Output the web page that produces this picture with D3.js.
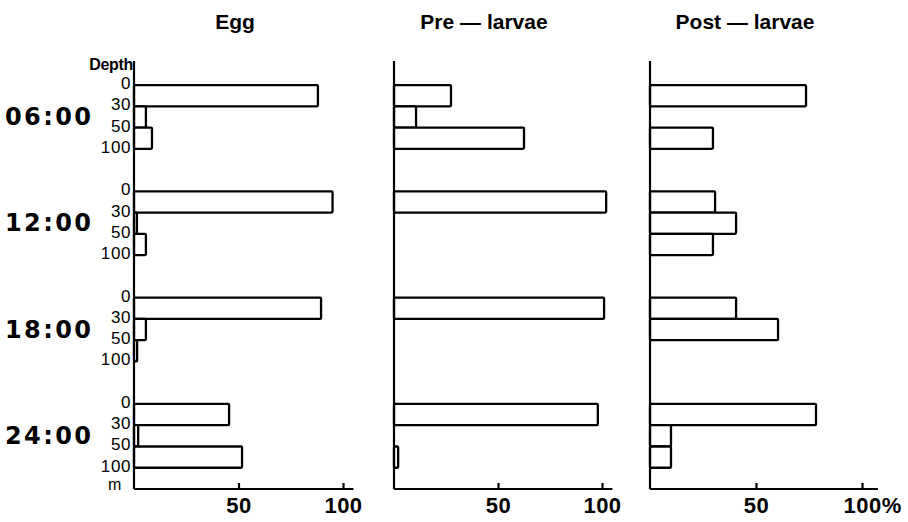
<!DOCTYPE html>
<html lang="en">
  <head>
    <meta charset="utf-8">
    <title>Vertical distribution by stage</title>
    <script src="https://d3js.org/d3.v7.min.js"></script>
    <style>
      html, body { margin: 0; padding: 0; background: #fff; }
      svg { display: block; font-family: "Liberation Sans", Arial, sans-serif; }
      .bar { fill: #fff; stroke: #000; stroke-width: 2.3; }
      .axis path, .axis line { stroke: #000; stroke-width: 2.2; }
      .axis text { font-size: 22px; font-weight: bold; fill: #000; letter-spacing: 0.5px; }
    </style>
  </head>
  <body>
    <svg id="chart" width="908" height="522"></svg>
    <script>
      // data (% per depth layer)
      const stages = ['Egg', 'Pre \u2014 larvae', 'Post \u2014 larvae'];
      const times = ['06:00', '12:00', '18:00', '24:00'];
      const depthTicks = ['0', '30', '50', '100'];
      const layers = ['0-30', '30-50', '50-100'];
      const egg = [[88, 5.7, 8.6], [95, 1.4, 5.7], [89.5, 5.7, 1.5], [45.5, 2, 51.7]];
      const preLarvae = [[27.4, 10.6, 62.5], [102, 0, 0], [101, 0, 0], [98, 0, 2]];
      const postLarvae = [[73.6, 0, 29.7], [30.7, 40.6, 29.7], [40.6, 60.4, 0], [78.3, 9.9, 9.9]];
      const pctTicks = [50, 100];

      const series = [egg, preLarvae, postLarvae];

      const svg = d3.select('#chart');
      const panelX = [134, 394, 650];
      const panelW = [209, 208, 212];
      const axisTop = 61, axisBottom = 489;
      const slotsPerGroup = 5;

      // one unit = one depth layer bar
      const y = d3.scaleLinear().domain([-1.13, 19]).range([axisTop, axisBottom]);

      stages.forEach(function(stage, p) {
        const x = d3.scaleLinear().domain([0, 100]).range([panelX[p], panelX[p] + panelW[p]]);
        const g = svg.append('g');

        g.append('text')
          .attr('x', [235, 484, 745][p])
          .attr('y', 29)
          .attr('text-anchor', 'middle')
          .style('font-size', '21px')
          .style('font-weight', 'bold')
          .text(stage);

        const rows = [];
        series[p].forEach(function(vals, t) {
          vals.forEach(function(v, l) {
            rows.push({ t: t, l: l, v: v, layer: layers[l] });
          });
        });

        g.selectAll('rect.bar')
          .data(rows.filter(d => d.v > 0))
          .enter().append('rect')
            .attr('class', 'bar')
            .attr('x', x(0))
            .attr('y', d => y(d.t * slotsPerGroup + d.l))
            .attr('width', d => x(d.v) - x(0))
            .attr('height', d => y(1) - y(0))
            .attr('rx', 1);

        // vertical axis line
        g.append('line')
          .attr('x1', x(0)).attr('x2', x(0))
          .attr('y1', axisTop).attr('y2', axisBottom)
          .attr('stroke', '#000').attr('stroke-width', 2.2);

        const xAxis = d3.axisBottom(x)
          .tickValues(pctTicks)
          .tickSizeInner(-6)
          .tickSizeOuter(0)
          .tickPadding(8)
          .tickFormat(d => d);

        const ax = g.append('g')
          .attr('class', 'axis')
          .attr('transform', 'translate(0,' + axisBottom + ')')
          .call(xAxis);
        ax.select('.domain').attr('d', 'M' + x(0) + ',0H' + x(p === 2 ? 107.5 : 105));

        if (p === 2) {
          ax.selectAll('.tick text')
            .filter(d => d === 100)
            .attr('text-anchor', 'start')
            .attr('x', -19)
            .text('100%');
        }
      });

      // depth labels for the egg panel
      const xEgg = panelX[0];
      const left = svg.append('g').style('font-size', '17px').style('letter-spacing', '0.6px');

      times.forEach(function(time, t) {
        depthTicks.forEach(function(lbl, k) {
          left.append('text')
            .attr('x', xEgg - 3)
            .attr('y', y(t * slotsPerGroup + k) + 4)
            .attr('text-anchor', 'end')
            .text(lbl);
        });
        svg.append('text')
          .attr('x', 5)
          .attr('y', y(t * slotsPerGroup + 1.5) + 8)
          .attr('textLength', 86)
          .attr('lengthAdjust', 'spacing')
          .style('font-family', '"DejaVu Sans", sans-serif')
          .style('font-size', '24px')
          .style('font-weight', 'bold')
          .text(time);
      });

      left.append('text')
        .attr('x', xEgg - 12)
        .attr('y', axisBottom + 1)
        .attr('text-anchor', 'end')
        .style('font-size', '16px')
        .text('m');

      svg.append('text')
        .attr('x', xEgg - 1)
        .attr('y', axisTop + 9)
        .attr('text-anchor', 'end')
        .style('font-size', '16px')
        .style('font-weight', 'bold')
        .style('letter-spacing', '-0.3px')
        .text('Depth');
    </script>
  </body>
</html>
